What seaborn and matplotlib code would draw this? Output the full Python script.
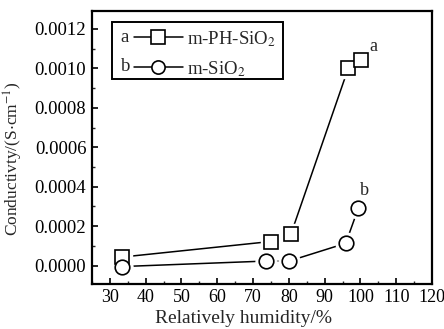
import numpy as np
import pandas as pd
import matplotlib
matplotlib.use("Agg")
import matplotlib.pyplot as plt
from matplotlib.patches import Rectangle
from matplotlib.ticker import MultipleLocator, FormatStrFormatter
import seaborn as sns

# Datos
rh_a = [33.3, 74.9, 80.6, 96.6, 100.2]
cond_a = [0.000043, 0.000122, 0.000160, 0.00100, 0.00104]
rh_b = [33.3, 73.6, 80.1, 95.9, 99.4]
cond_b = [-0.000005, 0.000023, 0.000023, 0.000113, 0.000290]
etiquetas = ["m-PH-SiO$_2$", "m-SiO$_2$"]
letras = ["a", "b"]

sns.set_theme(style="white")
plt.rcParams['font.family'] = ['Liberation Serif', 'DejaVu Serif']
plt.rcParams['mathtext.fontset'] = 'stix'

fig = plt.figure(figsize=(4.44, 3.29), dpi=100)
ax = fig.add_axes([0.207, 0.137, 0.766, 0.829])

df_a = pd.DataFrame({"rh": rh_a, "cond": cond_a})
df_b = pd.DataFrame({"rh": rh_b, "cond": cond_b})

handles = []
for df, mk in [(df_a, "s"), (df_b, "o")]:
    sns.lineplot(data=df, x="rh", y="cond", ax=ax, color="black", lw=1.1,
                 sort=False, zorder=2)
    # máscara blanca para dejar un hueco entre línea y marcador
    ax.plot(df["rh"], df["cond"], ls="none", marker=mk, ms=15, mfc="white",
            mec="white", zorder=3)
    ax.plot(df["rh"], df["cond"], ls="none", marker=mk, ms=10.5, mfc="white",
            mec="black", mew=1.2, zorder=4)
    h, = ax.plot([], [], color="black", lw=1.1, marker=mk, ms=9.5, mfc="white",
                 mec="black", mew=1.2)
    handles.append(h)

ax.text(rh_a[-1] + 2.3, cond_a[-1] + 0.00005, letras[0], fontsize=13)
ax.text(rh_b[-1] + 0.5, cond_b[-1] + 0.00007, letras[1], fontsize=13)

ax.set_xlim(25, 120)
ax.set_ylim(-0.000093, 0.00129)
ax.xaxis.set_major_locator(MultipleLocator(10))
ax.xaxis.set_minor_locator(MultipleLocator(5))
ax.yaxis.set_major_locator(MultipleLocator(0.0002))
ax.yaxis.set_minor_locator(MultipleLocator(0.0001))
ax.yaxis.set_major_formatter(FormatStrFormatter("%.4f"))
ax.tick_params(which="major", direction="in", length=4, width=1.2, pad=4,
               labelsize=13.5, colors="black", bottom=True, left=True)
ax.tick_params(axis="x", labelsize=13)
ax.tick_params(which="minor", direction="in", length=2, width=1,
               bottom=True, left=True)
for s in ax.spines.values():
    s.set_linewidth(1.6)
    s.set_color("black")

ax.set_xlabel("Relatively humidity/%", fontsize=14)
ax.xaxis.set_label_coords(0.447, -0.097)
ax.set_ylabel("Conductivty/(S$\\cdot$cm$^{-1}$)", fontsize=12.5)
ax.yaxis.set_label_coords(-0.197, 0.46)

# Leyenda estilo Origin
ax.add_patch(Rectangle((0.059, 0.751), 0.503, 0.209, transform=ax.transAxes,
                       fill=False, ec="black", lw=1.4, zorder=5))
leg = ax.legend(handles, etiquetas, loc="upper left", bbox_to_anchor=(0.124, 0.935),
                frameon=False, fontsize=13.5, handlelength=2.6, handletextpad=0.2,
                labelspacing=0.55, borderpad=0, borderaxespad=0)
ax.text(0.085, 0.902, letras[0], transform=ax.transAxes, fontsize=13.5, va="center")
ax.text(0.085, 0.797, letras[1], transform=ax.transAxes, fontsize=13.5, va="center")

fig.savefig("out.png", dpi=100)
